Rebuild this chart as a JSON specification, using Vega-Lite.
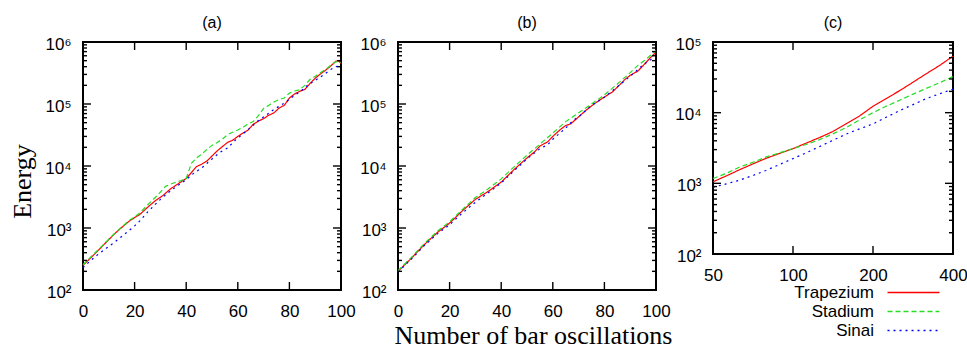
{
  "$schema": "https://vega.github.io/schema/vega-lite/v6.json",
  "background": "white",
  "padding": {"left": 8, "top": 13, "right": 0, "bottom": 0},
  "config": {
    "view": {"stroke": "black", "strokeWidth": 2},
    "axis": {"labelFont": "Liberation Sans", "labelFontSize": 17, "labelColor": "black", "ticks": false, "domain": false, "grid": false, "labelOverlap": false, "labelFlush": false, "titleFont": "Liberation Serif", "titleFontSize": 26, "titleFontWeight": "normal", "titleColor": "black"},
    "title": {"font": "Liberation Sans", "fontSize": 16, "fontWeight": "normal", "color": "black", "offset": 4.5},
    "tick": {"thickness": 1.4, "color": "black", "opacity": 1}
  },
  "datasets": {
    "lines": [
    {"p":"a","s":"Trapezium","x":0,"E":250},{"p":"a","s":"Trapezium","x":3,"E":330},{"p":"a","s":"Trapezium","x":6,"E":440},{"p":"a","s":"Trapezium","x":9,"E":590},{"p":"a","s":"Trapezium","x":12,"E":790},{"p":"a","s":"Trapezium","x":15,"E":1020},{"p":"a","s":"Trapezium","x":18,"E":1300},{"p":"a","s":"Trapezium","x":20,"E":1470},{"p":"a","s":"Trapezium","x":22,"E":1650},{"p":"a","s":"Trapezium","x":25,"E":2150},{"p":"a","s":"Trapezium","x":28,"E":2750},{"p":"a","s":"Trapezium","x":31,"E":3350},{"p":"a","s":"Trapezium","x":34,"E":4300},{"p":"a","s":"Trapezium","x":37,"E":5200},{"p":"a","s":"Trapezium","x":40,"E":6300},{"p":"a","s":"Trapezium","x":42,"E":7800},{"p":"a","s":"Trapezium","x":44,"E":9800},{"p":"a","s":"Trapezium","x":46,"E":10700},{"p":"a","s":"Trapezium","x":48,"E":12000},{"p":"a","s":"Trapezium","x":50,"E":14500},{"p":"a","s":"Trapezium","x":52,"E":17500},{"p":"a","s":"Trapezium","x":54,"E":20500},{"p":"a","s":"Trapezium","x":56,"E":24000},{"p":"a","s":"Trapezium","x":58,"E":26000},{"p":"a","s":"Trapezium","x":60,"E":30000},{"p":"a","s":"Trapezium","x":62,"E":34000},{"p":"a","s":"Trapezium","x":64,"E":38000},{"p":"a","s":"Trapezium","x":66,"E":47000},{"p":"a","s":"Trapezium","x":68,"E":53000},{"p":"a","s":"Trapezium","x":70,"E":58000},{"p":"a","s":"Trapezium","x":72,"E":66000},{"p":"a","s":"Trapezium","x":74,"E":72000},{"p":"a","s":"Trapezium","x":76,"E":86000},{"p":"a","s":"Trapezium","x":78,"E":95000},{"p":"a","s":"Trapezium","x":80,"E":125000},{"p":"a","s":"Trapezium","x":82,"E":145000},{"p":"a","s":"Trapezium","x":84,"E":160000},{"p":"a","s":"Trapezium","x":86,"E":172000},{"p":"a","s":"Trapezium","x":88,"E":215000},{"p":"a","s":"Trapezium","x":90,"E":260000},{"p":"a","s":"Trapezium","x":92,"E":305000},{"p":"a","s":"Trapezium","x":94,"E":350000},{"p":"a","s":"Trapezium","x":96,"E":410000},{"p":"a","s":"Trapezium","x":98,"E":490000},{"p":"a","s":"Trapezium","x":99,"E":500000},{"p":"a","s":"Trapezium","x":100,"E":450000},
    {"p":"a","s":"Stadium","x":0,"E":255},{"p":"a","s":"Stadium","x":3,"E":340},{"p":"a","s":"Stadium","x":6,"E":450},{"p":"a","s":"Stadium","x":9,"E":600},{"p":"a","s":"Stadium","x":12,"E":800},{"p":"a","s":"Stadium","x":15,"E":1040},{"p":"a","s":"Stadium","x":18,"E":1330},{"p":"a","s":"Stadium","x":20,"E":1500},{"p":"a","s":"Stadium","x":22,"E":1750},{"p":"a","s":"Stadium","x":25,"E":2350},{"p":"a","s":"Stadium","x":28,"E":3100},{"p":"a","s":"Stadium","x":30,"E":3800},{"p":"a","s":"Stadium","x":32,"E":4700},{"p":"a","s":"Stadium","x":34,"E":5100},{"p":"a","s":"Stadium","x":36,"E":5500},{"p":"a","s":"Stadium","x":38,"E":5800},{"p":"a","s":"Stadium","x":40,"E":6300},{"p":"a","s":"Stadium","x":42,"E":11000},{"p":"a","s":"Stadium","x":44,"E":13500},{"p":"a","s":"Stadium","x":46,"E":15500},{"p":"a","s":"Stadium","x":48,"E":18500},{"p":"a","s":"Stadium","x":50,"E":21500},{"p":"a","s":"Stadium","x":52,"E":24000},{"p":"a","s":"Stadium","x":54,"E":27000},{"p":"a","s":"Stadium","x":56,"E":32000},{"p":"a","s":"Stadium","x":58,"E":35000},{"p":"a","s":"Stadium","x":60,"E":38000},{"p":"a","s":"Stadium","x":62,"E":42000},{"p":"a","s":"Stadium","x":64,"E":48000},{"p":"a","s":"Stadium","x":66,"E":52000},{"p":"a","s":"Stadium","x":68,"E":65000},{"p":"a","s":"Stadium","x":70,"E":85000},{"p":"a","s":"Stadium","x":72,"E":95000},{"p":"a","s":"Stadium","x":74,"E":108000},{"p":"a","s":"Stadium","x":76,"E":118000},{"p":"a","s":"Stadium","x":78,"E":125000},{"p":"a","s":"Stadium","x":80,"E":150000},{"p":"a","s":"Stadium","x":82,"E":162000},{"p":"a","s":"Stadium","x":84,"E":170000},{"p":"a","s":"Stadium","x":86,"E":200000},{"p":"a","s":"Stadium","x":88,"E":250000},{"p":"a","s":"Stadium","x":90,"E":280000},{"p":"a","s":"Stadium","x":92,"E":320000},{"p":"a","s":"Stadium","x":94,"E":360000},{"p":"a","s":"Stadium","x":96,"E":420000},{"p":"a","s":"Stadium","x":98,"E":480000},{"p":"a","s":"Stadium","x":100,"E":470000},
    {"p":"a","s":"Sinai","x":0,"E":230},{"p":"a","s":"Sinai","x":3,"E":300},{"p":"a","s":"Sinai","x":6,"E":380},{"p":"a","s":"Sinai","x":9,"E":470},{"p":"a","s":"Sinai","x":12,"E":580},{"p":"a","s":"Sinai","x":15,"E":730},{"p":"a","s":"Sinai","x":18,"E":920},{"p":"a","s":"Sinai","x":20,"E":1080},{"p":"a","s":"Sinai","x":22,"E":1300},{"p":"a","s":"Sinai","x":25,"E":1800},{"p":"a","s":"Sinai","x":28,"E":2400},{"p":"a","s":"Sinai","x":30,"E":2900},{"p":"a","s":"Sinai","x":33,"E":3700},{"p":"a","s":"Sinai","x":36,"E":4600},{"p":"a","s":"Sinai","x":40,"E":6000},{"p":"a","s":"Sinai","x":43,"E":7700},{"p":"a","s":"Sinai","x":46,"E":9300},{"p":"a","s":"Sinai","x":48,"E":11000},{"p":"a","s":"Sinai","x":50,"E":13000},{"p":"a","s":"Sinai","x":53,"E":16500},{"p":"a","s":"Sinai","x":56,"E":19500},{"p":"a","s":"Sinai","x":59,"E":26000},{"p":"a","s":"Sinai","x":62,"E":33000},{"p":"a","s":"Sinai","x":65,"E":42000},{"p":"a","s":"Sinai","x":68,"E":54000},{"p":"a","s":"Sinai","x":71,"E":66000},{"p":"a","s":"Sinai","x":74,"E":82000},{"p":"a","s":"Sinai","x":77,"E":97000},{"p":"a","s":"Sinai","x":80,"E":118000},{"p":"a","s":"Sinai","x":82,"E":138000},{"p":"a","s":"Sinai","x":84,"E":155000},{"p":"a","s":"Sinai","x":87,"E":200000},{"p":"a","s":"Sinai","x":90,"E":240000},{"p":"a","s":"Sinai","x":93,"E":290000},{"p":"a","s":"Sinai","x":96,"E":360000},{"p":"a","s":"Sinai","x":98,"E":400000},{"p":"a","s":"Sinai","x":100,"E":415000},
    {"p":"b","s":"Trapezium","x":0,"E":200},{"p":"b","s":"Trapezium","x":5,"E":320},{"p":"b","s":"Trapezium","x":10,"E":530},{"p":"b","s":"Trapezium","x":15,"E":830},{"p":"b","s":"Trapezium","x":20,"E":1200},{"p":"b","s":"Trapezium","x":25,"E":1900},{"p":"b","s":"Trapezium","x":30,"E":2900},{"p":"b","s":"Trapezium","x":35,"E":3900},{"p":"b","s":"Trapezium","x":40,"E":5500},{"p":"b","s":"Trapezium","x":45,"E":8800},{"p":"b","s":"Trapezium","x":50,"E":13500},{"p":"b","s":"Trapezium","x":53,"E":17000},{"p":"b","s":"Trapezium","x":55,"E":21000},{"p":"b","s":"Trapezium","x":58,"E":24500},{"p":"b","s":"Trapezium","x":60,"E":30000},{"p":"b","s":"Trapezium","x":63,"E":39000},{"p":"b","s":"Trapezium","x":65,"E":45000},{"p":"b","s":"Trapezium","x":67,"E":48000},{"p":"b","s":"Trapezium","x":70,"E":62000},{"p":"b","s":"Trapezium","x":73,"E":80000},{"p":"b","s":"Trapezium","x":76,"E":100000},{"p":"b","s":"Trapezium","x":80,"E":130000},{"p":"b","s":"Trapezium","x":83,"E":155000},{"p":"b","s":"Trapezium","x":86,"E":205000},{"p":"b","s":"Trapezium","x":88,"E":250000},{"p":"b","s":"Trapezium","x":90,"E":290000},{"p":"b","s":"Trapezium","x":93,"E":340000},{"p":"b","s":"Trapezium","x":96,"E":460000},{"p":"b","s":"Trapezium","x":98,"E":570000},{"p":"b","s":"Trapezium","x":100,"E":680000},
    {"p":"b","s":"Stadium","x":0,"E":205},{"p":"b","s":"Stadium","x":5,"E":330},{"p":"b","s":"Stadium","x":10,"E":550},{"p":"b","s":"Stadium","x":15,"E":870},{"p":"b","s":"Stadium","x":20,"E":1260},{"p":"b","s":"Stadium","x":25,"E":2000},{"p":"b","s":"Stadium","x":30,"E":3100},{"p":"b","s":"Stadium","x":35,"E":4300},{"p":"b","s":"Stadium","x":40,"E":6200},{"p":"b","s":"Stadium","x":45,"E":9700},{"p":"b","s":"Stadium","x":50,"E":15000},{"p":"b","s":"Stadium","x":55,"E":22500},{"p":"b","s":"Stadium","x":60,"E":34000},{"p":"b","s":"Stadium","x":65,"E":52000},{"p":"b","s":"Stadium","x":70,"E":72000},{"p":"b","s":"Stadium","x":75,"E":100000},{"p":"b","s":"Stadium","x":80,"E":140000},{"p":"b","s":"Stadium","x":85,"E":210000},{"p":"b","s":"Stadium","x":90,"E":320000},{"p":"b","s":"Stadium","x":93,"E":420000},{"p":"b","s":"Stadium","x":96,"E":520000},{"p":"b","s":"Stadium","x":98,"E":620000},{"p":"b","s":"Stadium","x":100,"E":730000},
    {"p":"b","s":"Sinai","x":0,"E":195},{"p":"b","s":"Sinai","x":5,"E":310},{"p":"b","s":"Sinai","x":10,"E":510},{"p":"b","s":"Sinai","x":15,"E":790},{"p":"b","s":"Sinai","x":20,"E":1130},{"p":"b","s":"Sinai","x":25,"E":1750},{"p":"b","s":"Sinai","x":30,"E":2600},{"p":"b","s":"Sinai","x":35,"E":3700},{"p":"b","s":"Sinai","x":40,"E":5300},{"p":"b","s":"Sinai","x":45,"E":8400},{"p":"b","s":"Sinai","x":50,"E":13000},{"p":"b","s":"Sinai","x":55,"E":19000},{"p":"b","s":"Sinai","x":58,"E":22000},{"p":"b","s":"Sinai","x":60,"E":27000},{"p":"b","s":"Sinai","x":65,"E":41000},{"p":"b","s":"Sinai","x":68,"E":55000},{"p":"b","s":"Sinai","x":70,"E":62000},{"p":"b","s":"Sinai","x":75,"E":95000},{"p":"b","s":"Sinai","x":80,"E":128000},{"p":"b","s":"Sinai","x":85,"E":190000},{"p":"b","s":"Sinai","x":90,"E":280000},{"p":"b","s":"Sinai","x":93,"E":360000},{"p":"b","s":"Sinai","x":95,"E":430000},{"p":"b","s":"Sinai","x":98,"E":520000},{"p":"b","s":"Sinai","x":100,"E":560000},
    {"p":"c","s":"Trapezium","x":50,"E":1050},{"p":"c","s":"Trapezium","x":56,"E":1270},{"p":"c","s":"Trapezium","x":63,"E":1560},{"p":"c","s":"Trapezium","x":71,"E":1900},{"p":"c","s":"Trapezium","x":79,"E":2250},{"p":"c","s":"Trapezium","x":89,"E":2650},{"p":"c","s":"Trapezium","x":100,"E":3100},{"p":"c","s":"Trapezium","x":112,"E":3700},{"p":"c","s":"Trapezium","x":126,"E":4450},{"p":"c","s":"Trapezium","x":141,"E":5400},{"p":"c","s":"Trapezium","x":159,"E":7000},{"p":"c","s":"Trapezium","x":178,"E":9000},{"p":"c","s":"Trapezium","x":200,"E":12300},{"p":"c","s":"Trapezium","x":224,"E":15800},{"p":"c","s":"Trapezium","x":252,"E":20500},{"p":"c","s":"Trapezium","x":283,"E":27000},{"p":"c","s":"Trapezium","x":317,"E":35500},{"p":"c","s":"Trapezium","x":356,"E":46500},{"p":"c","s":"Trapezium","x":400,"E":63000},
    {"p":"c","s":"Stadium","x":50,"E":1170},{"p":"c","s":"Stadium","x":56,"E":1380},{"p":"c","s":"Stadium","x":63,"E":1700},{"p":"c","s":"Stadium","x":71,"E":2000},{"p":"c","s":"Stadium","x":79,"E":2350},{"p":"c","s":"Stadium","x":89,"E":2700},{"p":"c","s":"Stadium","x":100,"E":3100},{"p":"c","s":"Stadium","x":112,"E":3550},{"p":"c","s":"Stadium","x":126,"E":4150},{"p":"c","s":"Stadium","x":141,"E":5000},{"p":"c","s":"Stadium","x":159,"E":6200},{"p":"c","s":"Stadium","x":178,"E":7900},{"p":"c","s":"Stadium","x":200,"E":10000},{"p":"c","s":"Stadium","x":224,"E":12300},{"p":"c","s":"Stadium","x":252,"E":15000},{"p":"c","s":"Stadium","x":283,"E":18300},{"p":"c","s":"Stadium","x":317,"E":22000},{"p":"c","s":"Stadium","x":356,"E":26500},{"p":"c","s":"Stadium","x":400,"E":32500},
    {"p":"c","s":"Sinai","x":50,"E":880},{"p":"c","s":"Sinai","x":56,"E":980},{"p":"c","s":"Sinai","x":63,"E":1110},{"p":"c","s":"Sinai","x":71,"E":1300},{"p":"c","s":"Sinai","x":79,"E":1520},{"p":"c","s":"Sinai","x":89,"E":1850},{"p":"c","s":"Sinai","x":100,"E":2240},{"p":"c","s":"Sinai","x":112,"E":2700},{"p":"c","s":"Sinai","x":126,"E":3320},{"p":"c","s":"Sinai","x":141,"E":4050},{"p":"c","s":"Sinai","x":159,"E":5000},{"p":"c","s":"Sinai","x":178,"E":5900},{"p":"c","s":"Sinai","x":200,"E":6930},{"p":"c","s":"Sinai","x":224,"E":8600},{"p":"c","s":"Sinai","x":252,"E":10700},{"p":"c","s":"Sinai","x":283,"E":13000},{"p":"c","s":"Sinai","x":317,"E":15800},{"p":"c","s":"Sinai","x":356,"E":18500},{"p":"c","s":"Sinai","x":400,"E":21500}
    ],
    "yMajAB": [{"v":1000},{"v":10000},{"v":100000}],
    "yMinAB": [{"v":200},{"v":300},{"v":400},{"v":500},{"v":600},{"v":700},{"v":800},{"v":900},{"v":2000},{"v":3000},{"v":4000},{"v":5000},{"v":6000},{"v":7000},{"v":8000},{"v":9000},{"v":20000},{"v":30000},{"v":40000},{"v":50000},{"v":60000},{"v":70000},{"v":80000},{"v":90000},{"v":200000},{"v":300000},{"v":400000},{"v":500000},{"v":600000},{"v":700000},{"v":800000},{"v":900000}],
    "xAB": [{"v":20},{"v":40},{"v":60},{"v":80}],
    "yMajC": [{"v":1000},{"v":10000}],
    "yMinC": [{"v":200},{"v":300},{"v":400},{"v":500},{"v":600},{"v":700},{"v":800},{"v":900},{"v":2000},{"v":3000},{"v":4000},{"v":5000},{"v":6000},{"v":7000},{"v":8000},{"v":9000},{"v":20000},{"v":30000},{"v":40000},{"v":50000},{"v":60000},{"v":70000},{"v":80000},{"v":90000}],
    "xC": [{"v":100},{"v":200}]
  },
  "hconcat": [
    {
      "width": 258, "height": 248,
      "title": {"text": "(a)"},
      "layer": [
        {
          "data": {"name": "lines"},
          "transform": [{"filter": "datum.p == 'a'"}],
          "mark": {"type": "line", "strokeWidth": 1.2},
          "encoding": {
            "x": {"field": "x", "type": "quantitative", "scale": {"domain": [0, 100], "nice": false, "zero": false},
              "axis": {"orient": "bottom", "title": null, "values": [0, 20, 40, 60, 80, 100], "labelPadding": 13}},
            "y": {"field": "E", "type": "quantitative", "scale": {"type": "log", "domain": [100, 1000000], "nice": false},
              "axis": {"orient": "left", "title": "Energy", "titleAngle": -90, "titleBaseline": "alphabetic", "titleAlign": "center", "titleX": -53, "titleY": 139,
                "values": [100, 1000, 10000, 100000, 1000000],
                "labelExpr": "'10' + ['⁰','¹','²','³','⁴','⁵','⁶'][round(log(datum.value)/LN10)]",
                "labelPadding": 12, "labelOffset": 2}},
            "color": {"field": "s", "type": "nominal", "scale": {"domain": ["Trapezium", "Stadium", "Sinai"], "range": ["#ff0000", "#22dd22", "#0000ff"]}, "legend": null},
            "strokeDash": {"field": "s", "type": "nominal", "scale": {"domain": ["Trapezium", "Stadium", "Sinai"], "range": [[1, 0], [5, 3], [2, 4]]}, "legend": null}
          }
        },
        {"data": {"name": "yMajAB"}, "mark": {"type": "tick", "orient": "horizontal", "size": 8, "xOffset": 4},
         "encoding": {"y": {"field": "v", "type": "quantitative"}, "x": {"datum": 0, "type": "quantitative"}}},
        {"data": {"name": "yMajAB"}, "mark": {"type": "tick", "orient": "horizontal", "size": 8, "xOffset": -4},
         "encoding": {"y": {"field": "v", "type": "quantitative"}, "x": {"datum": 100, "type": "quantitative"}}},
        {"data": {"name": "yMinAB"}, "mark": {"type": "tick", "orient": "horizontal", "size": 4, "xOffset": 2},
         "encoding": {"y": {"field": "v", "type": "quantitative"}, "x": {"datum": 0, "type": "quantitative"}}},
        {"data": {"name": "yMinAB"}, "mark": {"type": "tick", "orient": "horizontal", "size": 4, "xOffset": -2},
         "encoding": {"y": {"field": "v", "type": "quantitative"}, "x": {"datum": 100, "type": "quantitative"}}},
        {"data": {"name": "xAB"}, "mark": {"type": "tick", "orient": "vertical", "size": 8, "yOffset": -4},
         "encoding": {"x": {"field": "v", "type": "quantitative"}, "y": {"datum": 100, "type": "quantitative"}}},
        {"data": {"name": "xAB"}, "mark": {"type": "tick", "orient": "vertical", "size": 8, "yOffset": 4},
         "encoding": {"x": {"field": "v", "type": "quantitative"}, "y": {"datum": 1000000, "type": "quantitative"}}}
      ]
    },
    {
      "width": 258, "height": 248,
      "title": {"text": "(b)"},
      "layer": [
        {
          "data": {"name": "lines"},
          "transform": [{"filter": "datum.p == 'b'"}],
          "mark": {"type": "line", "strokeWidth": 1.2},
          "encoding": {
            "x": {"field": "x", "type": "quantitative", "scale": {"domain": [0, 100], "nice": false, "zero": false},
              "axis": {"orient": "bottom", "title": "Number of bar oscillations", "titleX": 135, "titleY": 53, "titleBaseline": "alphabetic", "titleAlign": "center",
                "values": [0, 20, 40, 60, 80, 100], "labelPadding": 13}},
            "y": {"field": "E", "type": "quantitative", "scale": {"type": "log", "domain": [100, 1000000], "nice": false},
              "axis": {"orient": "left", "title": null,
                "values": [100, 1000, 10000, 100000, 1000000],
                "labelExpr": "'10' + ['⁰','¹','²','³','⁴','⁵','⁶'][round(log(datum.value)/LN10)]",
                "labelPadding": 12, "labelOffset": 2}},
            "color": {"field": "s", "type": "nominal", "scale": {"domain": ["Trapezium", "Stadium", "Sinai"], "range": ["#ff0000", "#22dd22", "#0000ff"]}, "legend": null},
            "strokeDash": {"field": "s", "type": "nominal", "scale": {"domain": ["Trapezium", "Stadium", "Sinai"], "range": [[1, 0], [5, 3], [2, 4]]}, "legend": null}
          }
        },
        {"data": {"name": "yMajAB"}, "mark": {"type": "tick", "orient": "horizontal", "size": 8, "xOffset": 4},
         "encoding": {"y": {"field": "v", "type": "quantitative"}, "x": {"datum": 0, "type": "quantitative"}}},
        {"data": {"name": "yMajAB"}, "mark": {"type": "tick", "orient": "horizontal", "size": 8, "xOffset": -4},
         "encoding": {"y": {"field": "v", "type": "quantitative"}, "x": {"datum": 100, "type": "quantitative"}}},
        {"data": {"name": "yMinAB"}, "mark": {"type": "tick", "orient": "horizontal", "size": 4, "xOffset": 2},
         "encoding": {"y": {"field": "v", "type": "quantitative"}, "x": {"datum": 0, "type": "quantitative"}}},
        {"data": {"name": "yMinAB"}, "mark": {"type": "tick", "orient": "horizontal", "size": 4, "xOffset": -2},
         "encoding": {"y": {"field": "v", "type": "quantitative"}, "x": {"datum": 100, "type": "quantitative"}}},
        {"data": {"name": "xAB"}, "mark": {"type": "tick", "orient": "vertical", "size": 8, "yOffset": -4},
         "encoding": {"x": {"field": "v", "type": "quantitative"}, "y": {"datum": 100, "type": "quantitative"}}},
        {"data": {"name": "xAB"}, "mark": {"type": "tick", "orient": "vertical", "size": 8, "yOffset": 4},
         "encoding": {"x": {"field": "v", "type": "quantitative"}, "y": {"datum": 1000000, "type": "quantitative"}}}
      ]
    },
    {
      "width": 240, "height": 212,
      "title": {"text": "(c)"},
      "layer": [
        {
          "data": {"name": "lines"},
          "transform": [{"filter": "datum.p == 'c'"}],
          "mark": {"type": "line", "strokeWidth": 1.2},
          "encoding": {
            "x": {"field": "x", "type": "quantitative", "scale": {"type": "log", "domain": [50, 400], "nice": false},
              "axis": {"orient": "bottom", "title": null, "values": [50, 100, 200, 400], "labelPadding": 13}},
            "y": {"field": "E", "type": "quantitative", "scale": {"type": "log", "domain": [100, 100000], "nice": false},
              "axis": {"orient": "left", "title": null,
                "values": [100, 1000, 10000, 100000],
                "labelExpr": "'10' + ['⁰','¹','²','³','⁴','⁵','⁶'][round(log(datum.value)/LN10)]",
                "labelPadding": 12, "labelOffset": 2}},
            "color": {"field": "s", "type": "nominal", "scale": {"domain": ["Trapezium", "Stadium", "Sinai"], "range": ["#ff0000", "#22dd22", "#0000ff"]},
              "legend": {"orient": "none", "legendX": 192, "legendY": 242, "direction": "vertical", "title": null, "symbolType": "M-5,0H5", "symbolSize": 108, "symbolStrokeWidth": 1.3, "labelFont": "Liberation Sans", "labelFontSize": 17, "labelColor": "black", "labelAlign": "right", "labelOffset": -48, "rowPadding": 1}},
            "strokeDash": {"field": "s", "type": "nominal", "scale": {"domain": ["Trapezium", "Stadium", "Sinai"], "range": [[1, 0], [5, 3], [2, 4]]},
              "legend": {"orient": "none", "legendX": 192, "legendY": 242, "direction": "vertical", "title": null, "symbolType": "M-5,0H5", "symbolSize": 108, "symbolStrokeWidth": 1.3, "labelFont": "Liberation Sans", "labelFontSize": 17, "labelColor": "black", "labelAlign": "right", "labelOffset": -48, "rowPadding": 1}}
          }
        },
        {"data": {"name": "yMajC"}, "mark": {"type": "tick", "orient": "horizontal", "size": 8, "xOffset": 4},
         "encoding": {"y": {"field": "v", "type": "quantitative"}, "x": {"datum": 50, "type": "quantitative"}}},
        {"data": {"name": "yMajC"}, "mark": {"type": "tick", "orient": "horizontal", "size": 8, "xOffset": -4},
         "encoding": {"y": {"field": "v", "type": "quantitative"}, "x": {"datum": 400, "type": "quantitative"}}},
        {"data": {"name": "yMinC"}, "mark": {"type": "tick", "orient": "horizontal", "size": 4, "xOffset": 2},
         "encoding": {"y": {"field": "v", "type": "quantitative"}, "x": {"datum": 50, "type": "quantitative"}}},
        {"data": {"name": "yMinC"}, "mark": {"type": "tick", "orient": "horizontal", "size": 4, "xOffset": -2},
         "encoding": {"y": {"field": "v", "type": "quantitative"}, "x": {"datum": 400, "type": "quantitative"}}},
        {"data": {"name": "xC"}, "mark": {"type": "tick", "orient": "vertical", "size": 8, "yOffset": -4},
         "encoding": {"x": {"field": "v", "type": "quantitative"}, "y": {"datum": 100, "type": "quantitative"}}},
        {"data": {"name": "xC"}, "mark": {"type": "tick", "orient": "vertical", "size": 8, "yOffset": 4},
         "encoding": {"x": {"field": "v", "type": "quantitative"}, "y": {"datum": 100000, "type": "quantitative"}}}
      ]
    }
  ],
  "spacing": 57,
  "bounds": "flush",
  "resolve": {"scale": {"color": "independent", "strokeDash": "independent"}, "legend": {"color": "independent", "strokeDash": "independent"}}
}
